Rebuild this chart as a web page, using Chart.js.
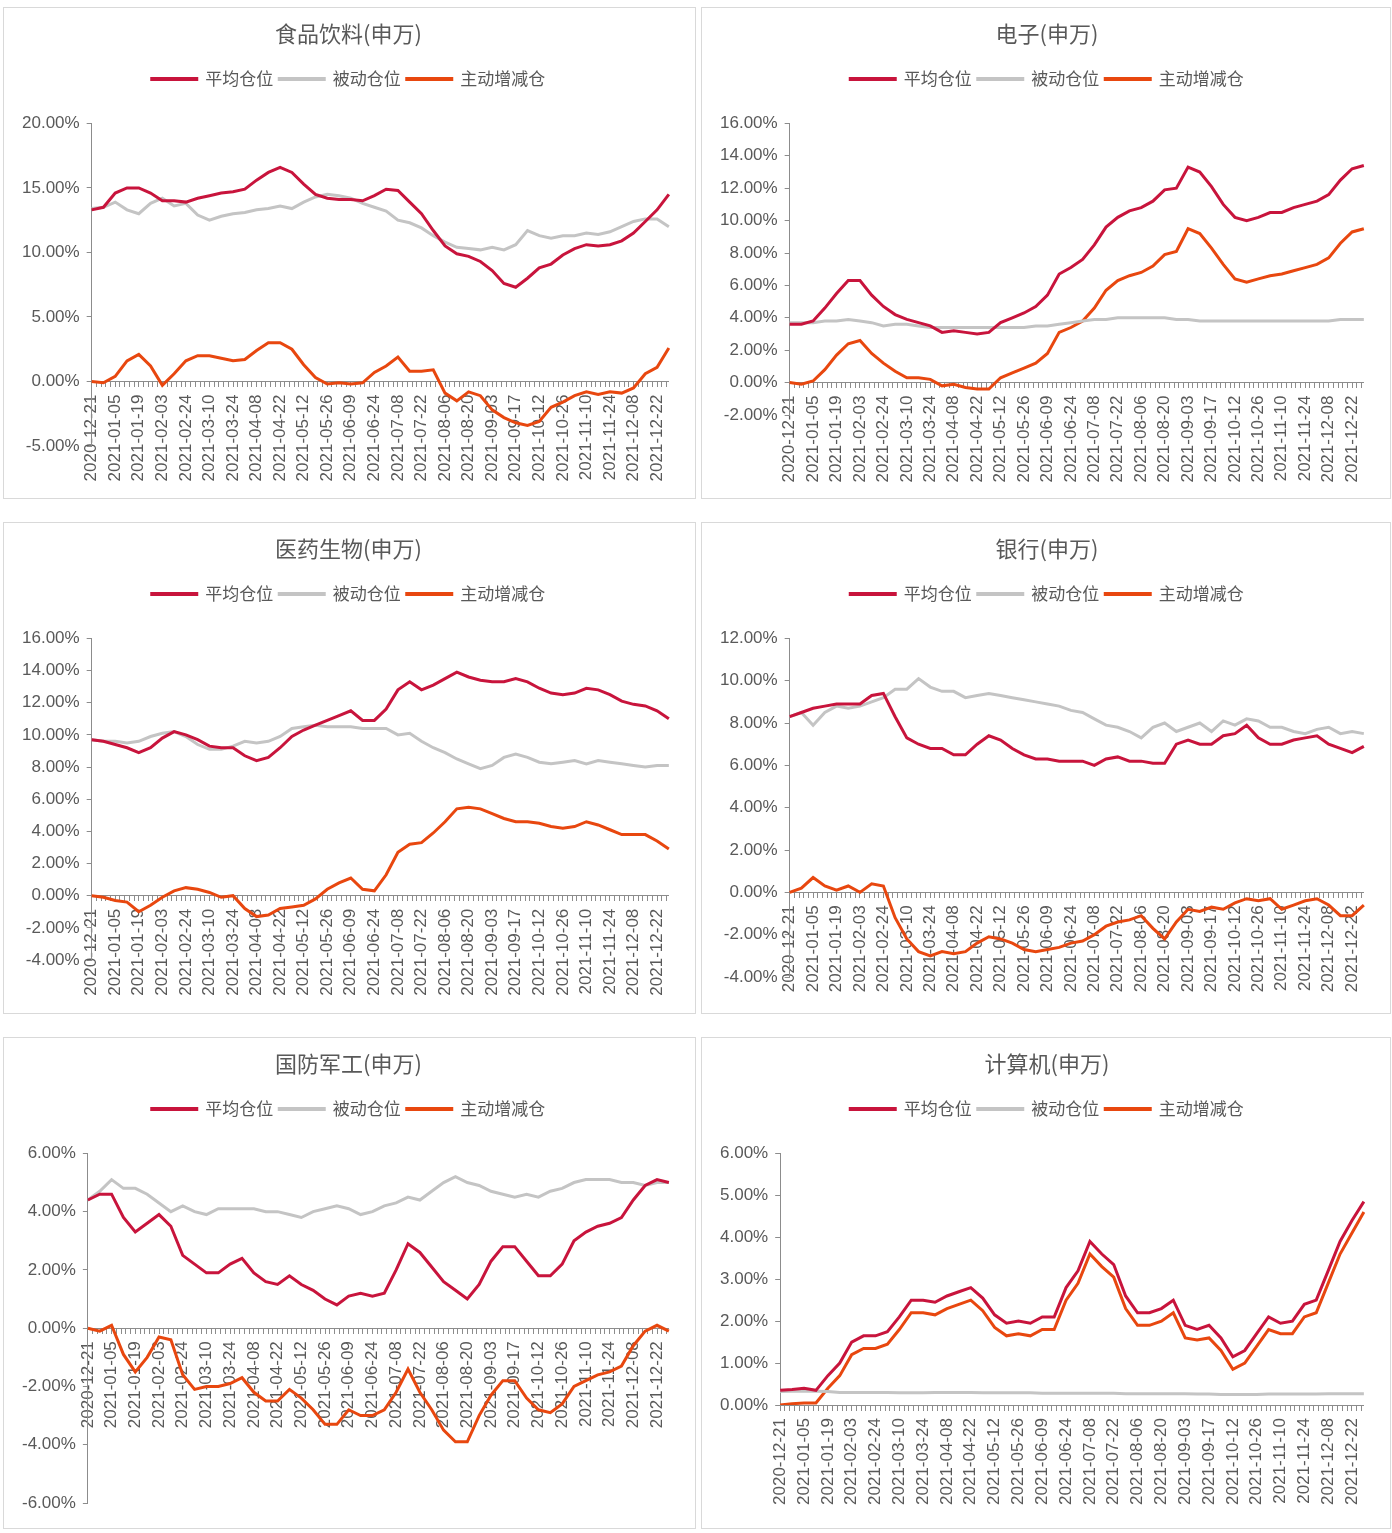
<!DOCTYPE html>
<html lang="zh">
<head>
<meta charset="UTF-8">
<title>行业仓位(申万)</title>
<script src="https://cdn.jsdelivr.net/npm/chart.js"></script>
<style>
    body { margin: 0; background: #fff; width: 1392px; height: 1533px; position: relative; overflow: hidden; }
    .panel { position: absolute; border: 1px solid #d9d9d9; height: 490px; background: #fff; }
    .left { left: 3px; width: 691px; }
    .right { left: 701px; width: 688px; }
    canvas { display: block; }
</style>
</head>
<body>
<div class="panel left" style="top:7px"><canvas id="c1" width="691" height="490"></canvas></div>
<div class="panel right" style="top:7px"><canvas id="c2" width="688" height="490"></canvas></div>
<div class="panel left" style="top:522px"><canvas id="c3" width="691" height="490"></canvas></div>
<div class="panel right" style="top:522px"><canvas id="c4" width="688" height="490"></canvas></div>
<div class="panel left" style="top:1037px"><canvas id="c5" width="691" height="490"></canvas></div>
<div class="panel right" style="top:1037px"><canvas id="c6" width="688" height="490"></canvas></div>
<script>
// 刻度标签(每10个交易日一个)
const tickLabels = ['2020-12-21','2021-01-05','2021-01-19','2021-02-03','2021-02-24','2021-03-10','2021-03-24',
    '2021-04-08','2021-04-22','2021-05-12','2021-05-26','2021-06-09','2021-06-24','2021-07-08','2021-07-22',
    '2021-08-06','2021-08-20','2021-09-03','2021-09-17','2021-10-12','2021-10-26','2021-11-10','2021-11-24',
    '2021-12-08','2021-12-22'];
// 数据点(每5个交易日一个)
const categories = ['2020-12-21','2020-12-28','2021-01-05','2021-01-12','2021-01-19','2021-01-26','2021-02-03','2021-02-10',
    '2021-02-24','2021-03-03','2021-03-10','2021-03-17','2021-03-24','2021-03-31','2021-04-08','2021-04-15',
    '2021-04-22','2021-04-29','2021-05-12','2021-05-19','2021-05-26','2021-06-02','2021-06-09','2021-06-17',
    '2021-06-24','2021-07-01','2021-07-08','2021-07-15','2021-07-22','2021-07-29','2021-08-06','2021-08-13',
    '2021-08-20','2021-08-27','2021-09-03','2021-09-10','2021-09-17','2021-09-28','2021-10-12','2021-10-19',
    '2021-10-26','2021-11-02','2021-11-10','2021-11-17','2021-11-24','2021-12-01','2021-12-08','2021-12-15',
    '2021-12-22','2021-12-29'];

// 食品饮料
const spAvg = [13.3,13.5,14.6,15.0,15.0,14.6,14.0,14.0,13.9,14.2, 14.4,14.6,14.7,14.9,15.6,16.2,16.6,16.2,15.3,14.5,
    14.2,14.1,14.1,14.0,14.4,14.9,14.8,13.9,13.0,11.7, 10.5,9.9,9.7,9.3,8.6,7.6,7.3,8.0,8.8,9.1,
    9.8,10.3,10.6,10.5,10.6,10.9,11.5,12.4,13.3,14.5];
const spPassive = [13.4,13.5,13.9,13.3,13.0,13.8,14.2,13.6,13.8,12.9, 12.5,12.8,13.0,13.1,13.3,13.4,13.6,13.4,13.9,14.3,
    14.5,14.4,14.2,13.8,13.5,13.2,12.5,12.3,11.9,11.3, 10.8,10.4,10.3,10.2,10.4,10.2,10.6,11.7,11.3,11.1,
    11.3,11.3,11.5,11.4,11.6,12.0,12.4,12.6,12.6,12.0];
const spActive = [0.0,-0.1,0.4,1.6,2.1,1.2,-0.3,0.6,1.6,2.0, 2.0,1.8,1.6,1.7,2.4,3.0,3.0,2.5,1.3,0.3,
    -0.2,-0.1,-0.2,-0.1,0.7,1.2,1.9,0.8,0.8,0.9, -0.9,-1.5,-0.8,-1.1,-2.2,-2.8,-3.2,-3.4,-3.1,-2.0,
    -1.6,-1.1,-0.8,-1.0,-0.8,-0.9,-0.5,0.6,1.1,2.6];

// 电子
const dzAvg = [3.6,3.6,3.8,4.6,5.5,6.3,6.3,5.4,4.7,4.2, 3.9,3.7,3.5,3.1,3.2,3.1,3.0,3.1,3.7,4.0,
    4.3,4.7,5.4,6.7,7.1,7.6,8.5,9.6,10.2,10.6, 10.8,11.2,11.9,12.0,13.3,13.0,12.1,11.0,10.2,10.0,
    10.2,10.5,10.5,10.8,11.0,11.2,11.6,12.5,13.2,13.4];
const dzPassive = [3.7,3.7,3.7,3.8,3.8,3.9,3.8,3.7,3.5,3.6, 3.6,3.5,3.4,3.4,3.4,3.4,3.4,3.4,3.4,3.4,
    3.4,3.5,3.5,3.6,3.7,3.8,3.9,3.9,4.0,4.0, 4.0,4.0,4.0,3.9,3.9,3.8,3.8,3.8,3.8,3.8,
    3.8,3.8,3.8,3.8,3.8,3.8,3.8,3.9,3.9,3.9];
const dzActive = [0.0,-0.1,0.1,0.8,1.7,2.4,2.6,1.8,1.2,0.7, 0.3,0.3,0.2,-0.2,-0.1,-0.3,-0.4,-0.4,0.3,0.6,
    0.9,1.2,1.8,3.1,3.4,3.8,4.6,5.7,6.3,6.6, 6.8,7.2,7.9,8.1,9.5,9.2,8.3,7.3,6.4,6.2,
    6.4,6.6,6.7,6.9,7.1,7.3,7.7,8.6,9.3,9.5];

// 医药生物
const yyAvg = [9.7,9.6,9.4,9.2,8.9,9.2,9.8,10.2,10.0,9.7, 9.3,9.2,9.2,8.7,8.4,8.6,9.2,9.9,10.3,10.6,
    10.9,11.2,11.5,10.9,10.9,11.6,12.8,13.3,12.8,13.1, 13.5,13.9,13.6,13.4,13.3,13.3,13.5,13.3,12.9,12.6,
    12.5,12.6,12.9,12.8,12.5,12.1,11.9,11.8,11.5,11.0];
const yyPassive = [9.7,9.6,9.6,9.5,9.6,9.9,10.1,10.2,9.9,9.4, 9.1,9.1,9.3,9.6,9.5,9.6,9.9,10.4,10.5,10.6,
    10.5,10.5,10.5,10.4,10.4,10.4,10.0,10.1,9.6,9.2, 8.9,8.5,8.2,7.9,8.1,8.6,8.8,8.6,8.3,8.2,
    8.3,8.4,8.2,8.4,8.3,8.2,8.1,8.0,8.1,8.1];
const yyActive = [0.0,-0.1,-0.3,-0.4,-1.0,-0.6,-0.1,0.3,0.5,0.4, 0.2,-0.1,0.0,-0.8,-1.3,-1.2,-0.8,-0.7,-0.6,-0.2,
    0.4,0.8,1.1,0.4,0.3,1.3,2.7,3.2,3.3,3.9, 4.6,5.4,5.5,5.4,5.1,4.8,4.6,4.6,4.5,4.3,
    4.2,4.3,4.6,4.4,4.1,3.8,3.8,3.8,3.4,2.9];

// 银行
const yhAvg = [8.3,8.5,8.7,8.8,8.9,8.9,8.9,9.3,9.4,8.3, 7.3,7.0,6.8,6.8,6.5,6.5,7.0,7.4,7.2,6.8,
    6.5,6.3,6.3,6.2,6.2,6.2,6.0,6.3,6.4,6.2, 6.2,6.1,6.1,7.0,7.2,7.0,7.0,7.4,7.5,7.9,
    7.3,7.0,7.0,7.2,7.3,7.4,7.0,6.8,6.6,6.9];
const yhPassive = [8.3,8.5,7.9,8.5,8.8,8.7,8.8,9.0,9.2,9.6, 9.6,10.1,9.7,9.5,9.5,9.2,9.3,9.4,9.3,9.2,
    9.1,9.0,8.9,8.8,8.6,8.5,8.2,7.9,7.8,7.6, 7.3,7.8,8.0,7.6,7.8,8.0,7.6,8.1,7.9,8.2,
    8.1,7.8,7.8,7.6,7.5,7.7,7.8,7.5,7.6,7.5];
const yhActive = [0.0,0.2,0.7,0.3,0.1,0.3,0.0,0.4,0.3,-1.2, -2.2,-2.8,-3.0,-2.8,-2.9,-2.8,-2.4,-2.1,-2.2,-2.4,
    -2.7,-2.8,-2.7,-2.6,-2.4,-2.3,-2.0,-1.6,-1.4,-1.3, -1.1,-1.7,-2.2,-1.4,-0.8,-0.9,-0.7,-0.8,-0.5,-0.3,
    -0.4,-0.3,-0.8,-0.6,-0.4,-0.3,-0.6,-1.1,-1.1,-0.6];

// 国防军工
const gfAvg = [4.4,4.6,4.6,3.8,3.3,3.6,3.9,3.5,2.5,2.2, 1.9,1.9,2.2,2.4,1.9,1.6,1.5,1.8,1.5,1.3,
    1.0,0.8,1.1,1.2,1.1,1.2,2.0,2.9,2.6,2.1, 1.6,1.3,1.0,1.5,2.3,2.8,2.8,2.3,1.8,1.8,
    2.2,3.0,3.3,3.5,3.6,3.8,4.4,4.9,5.1,5.0];
const gfPassive = [4.4,4.7,5.1,4.8,4.8,4.6,4.3,4.0,4.2,4.0, 3.9,4.1,4.1,4.1,4.1,4.0,4.0,3.9,3.8,4.0,
    4.1,4.2,4.1,3.9,4.0,4.2,4.3,4.5,4.4,4.7, 5.0,5.2,5.0,4.9,4.7,4.6,4.5,4.6,4.5,4.7,
    4.8,5.0,5.1,5.1,5.1,5.0,5.0,4.9,5.0,5.0];
const gfActive = [0.0,-0.1,0.1,-0.9,-1.5,-1.0,-0.3,-0.4,-1.6,-2.1, -2.0,-2.0,-1.9,-1.7,-2.2,-2.5,-2.5,-2.1,-2.4,-2.8,
    -3.3,-3.3,-2.8,-3.0,-3.0,-2.8,-2.2,-1.4,-2.2,-2.8, -3.5,-3.9,-3.9,-3.0,-2.3,-1.8,-1.8,-2.4,-2.8,-2.9,
    -2.6,-2.0,-1.8,-1.6,-1.5,-1.3,-0.6,-0.1,0.1,-0.1];

// 计算机
const jsjAvg = [0.35,0.37,0.4,0.35,0.7,1.0,1.5,1.65,1.65,1.75, 2.1,2.5,2.5,2.45,2.6,2.7,2.8,2.55,2.15,1.95,
    2.0,1.95,2.1,2.1,2.8,3.2,3.9,3.6,3.35,2.6, 2.2,2.2,2.3,2.5,1.9,1.8,1.9,1.6,1.15,1.3,
    1.7,2.1,1.95,2.0,2.4,2.5,3.2,3.9,4.4,4.85];
const jsjPassive = [0.32,0.33,0.33,0.33,0.32,0.3,0.3,0.3,0.3,0.3, 0.29,0.29,0.29,0.3,0.3,0.3,0.3,0.29,0.29,0.29,
    0.29,0.29,0.28,0.28,0.28,0.28,0.28,0.28,0.28,0.27, 0.27,0.27,0.27,0.27,0.27,0.26,0.26,0.25,0.25,0.25,
    0.25,0.26,0.26,0.26,0.26,0.26,0.27,0.27,0.27,0.27];
const jsjActive = [0.0,0.03,0.05,0.05,0.4,0.7,1.2,1.35,1.35,1.45, 1.8,2.2,2.2,2.15,2.3,2.4,2.5,2.25,1.85,1.65,
    1.7,1.65,1.8,1.8,2.5,2.9,3.6,3.3,3.05,2.3, 1.9,1.9,2.0,2.2,1.6,1.55,1.6,1.3,0.85,1.0,
    1.4,1.8,1.7,1.7,2.1,2.2,2.9,3.6,4.1,4.6];

const colAvg = '#c8143c';
const colPassive = '#c4c4c4';
const colActive = '#e8470f';
const axisColor = '#8c8c8c';
const textColor = '#595959';
const tickFont = { family: "'Liberation Sans', Arial, sans-serif", size: 17 };

// 图例下方留白, y轴标签不被裁切
const layoutTweaks = {
    id: 'layoutTweaks',
    beforeInit(chart) {
        const fit = chart.legend.fit;
        chart.legend.fit = function () { fit.call(this); this.height += 26; };
    },
    afterLayout(chart) {
        chart.scales.y.left -= 14;
    }
};

function makeChart(id, title, avg, passive, active, yMin, yMax, yStep, padBottom, padRight) {
    new Chart(document.getElementById(id), {
        type: 'line',
        data: {
            labels: categories,
            datasets: [
                { label: '平均仓位', data: avg, borderColor: colAvg, backgroundColor: colAvg },
                { label: '被动仓位', data: passive, borderColor: colPassive, backgroundColor: colPassive },
                { label: '主动增减仓', data: active, borderColor: colActive, backgroundColor: colActive }
            ]
        },
        options: {
            responsive: false,
            animation: false,
            devicePixelRatio: 1,
            events: [],
            elements: { point: { radius: 0 }, line: { borderWidth: 3, tension: 0 } },
            layout: { padding: { top: 4, left: 23, right: padRight, bottom: padBottom } },
            plugins: {
                title: {
                    display: true, text: title, color: textColor,
                    font: { family: "'Noto Sans CJK SC', sans-serif", size: 22, weight: 'normal' },
                    padding: { top: 8, bottom: 18 }
                },
                legend: {
                    labels: {
                        boxWidth: 45, boxHeight: 1, padding: 6, color: textColor,
                        font: { family: "'Noto Sans CJK SC', sans-serif", size: 17 }
                    }
                },
                tooltip: { enabled: false }
            },
            scales: {
                x: { display: false },
                xTicks: {
                    axis: 'x', type: 'linear', position: { y: 0 }, min: 0, max: 245,
                    grid: { drawOnChartArea: false, color: axisColor, tickLength: 5 },
                    border: { color: axisColor },
                    ticks: {
                        stepSize: 2, includeBounds: false, autoSkip: false, maxRotation: 90, minRotation: 90,
                        padding: 8, color: textColor, font: tickFont,
                        callback: v => (v % 10 === 0 ? tickLabels[v / 10] : '')
                    }
                },
                y: {
                    min: yMin, max: yMax,
                    afterFit: axis => { axis.width -= 12; },
                    grid: { drawOnChartArea: false, color: axisColor, tickLength: 5 },
                    border: { color: axisColor },
                    ticks: { stepSize: yStep, padding: 7, color: textColor, font: tickFont, callback: v => v.toFixed(2) + '%' }
                }
            }
        },
        plugins: [layoutTweaks]
    });
}

makeChart('c1', '食品饮料(申万)', spAvg, spPassive, spActive, -5, 20, 5, 52, 25);
makeChart('c2', '电子(申万)', dzAvg, dzPassive, dzActive, -2, 16, 2, 83, 21);
makeChart('c3', '医药生物(申万)', yyAvg, yyPassive, yyActive, -4, 16, 2, 53, 25);
makeChart('c4', '银行(申万)', yhAvg, yhPassive, yhActive, -4, 12, 2, 36, 21);
makeChart('c5', '国防军工(申万)', gfAvg, gfPassive, gfActive, -6, 6, 2, 25, 25);
makeChart('c6', '计算机(申万)', jsjAvg, jsjPassive, jsjActive, 0, 6, 1, 123, 21);
</script>
</body>
</html>
